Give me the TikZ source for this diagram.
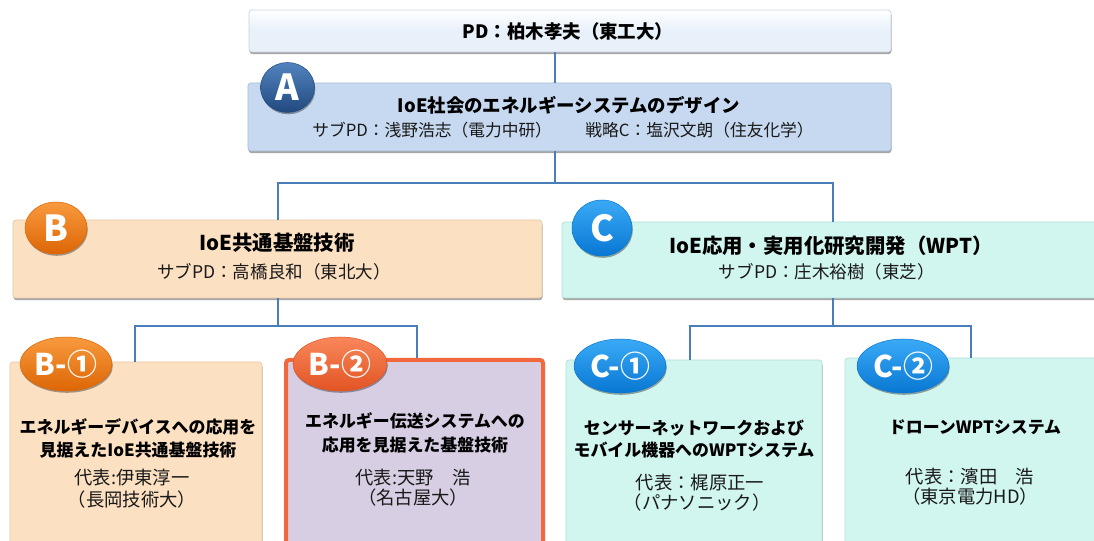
\documentclass[tikz,border=0pt]{standalone}
\usepackage{fontspec}
\setmainfont{Noto Sans CJK JP}
\usetikzlibrary{shapes.geometric,shadows}
\definecolor{lineblue}{HTML}{4A7EBB}
\definecolor{pdfill}{HTML}{E8F0FA}
\definecolor{pdline}{HTML}{C9D5E3}
\definecolor{afill}{HTML}{C6D9F0}
\definecolor{aline}{HTML}{A9BFDA}
\definecolor{bfill}{HTML}{FCE0C2}
\definecolor{bline}{HTML}{E8C8A6}
\definecolor{cfill}{HTML}{D1F5EF}
\definecolor{cline}{HTML}{B3E0D8}
\definecolor{lavfill}{HTML}{D8CEE4}
\definecolor{redline}{HTML}{F1683C}
\definecolor{aTop}{HTML}{5283BE}
\definecolor{aBot}{HTML}{21497F}
\definecolor{bTop}{HTML}{F89A3E}
\definecolor{bBot}{HTML}{DD6605}
\definecolor{cTop}{HTML}{3AAAF6}
\definecolor{cBot}{HTML}{0877D3}
\definecolor{rTop}{HTML}{F8875A}
\definecolor{rBot}{HTML}{E25424}
\newcommand{\fsz}[1]{\fontsize{#1}{#1}\selectfont}
\begin{document}
\begin{tikzpicture}[x=1bp,y=-1bp,
  conn/.style={draw=lineblue,line width=2.6bp},
  box/.style={rounded corners=3bp,line width=0.7bp,inner sep=0pt,
    drop shadow={shadow xshift=0.5bp,shadow yshift=-2.2bp,opacity=0.35,fill=black}},
  badge/.style={ellipse,inner sep=0pt,text=white,line width=0.5bp,
    drop shadow={shadow xshift=0.8bp,shadow yshift=-1.8bp,opacity=0.35,fill=black}},
  big/.style={font=\bfseries\fsz{36}},
  small/.style={font=\bfseries\fsz{30}},
  ttl/.style={font=\bfseries\fsz{18.5},align=center,inner sep=0pt},
  ttlb/.style={font=\bfseries\fsz{20.5},align=center,inner sep=0pt},
  sub/.style={font=\fsz{16.8},align=center,inner sep=0pt,text=black!90},
  subb/.style={font=\fsz{17.6},align=center,inner sep=0pt,text=black!90},
  btl/.style={font=\bfseries\fsz{17},align=center,inner sep=0pt},
  bsub/.style={font=\fsz{18.4},align=center,inner sep=0pt,text=black!90}]
\useasboundingbox[fill=white] (0,0) rectangle (1094,541);

% coordinates for connector buses
\coordinate (busA) at (555,183);
\coordinate (busB) at (278,326);
\coordinate (busC) at (833,326);
\coordinate (xB1) at (135,0);
\coordinate (xB2) at (417,0);
\coordinate (xC1) at (690,0);
\coordinate (xC2) at (971,0);

% boxes
\node[box,draw=pdline,top color=white,bottom color=pdfill,middle color=pdfill,
  minimum width=642bp,minimum height=42bp] (PD) at (570,31) {};
\node[box,draw=aline,fill=afill,minimum width=643bp,minimum height=68bp] (A) at (569.5,117) {};
\node[box,draw=bline,fill=bfill,minimum width=529bp,minimum height=78bp] (B) at (277.5,259) {};
\node[box,draw=cline,fill=cfill,minimum width=538bp,minimum height=76bp] (C) at (831,260) {};
\node[box,draw=bline,fill=bfill,minimum width=252bp,minimum height=200bp] (B1) at (136,462) {};
\node[box,draw=redline,line width=4bp,fill=lavfill,minimum width=257bp,minimum height=202bp] (B2) at (414.5,461) {};
\node[box,draw=cline,fill=cfill,minimum width=256bp,minimum height=200bp] (C1) at (694,460) {};
\node[box,draw=cline,fill=cfill,minimum width=260bp,minimum height=202bp] (C2) at (975,459) {};

% connectors
\draw[conn] (PD.south -| busA) -- (A.north -| busA);
\draw[conn] (A.south -| busA) -- (busA);
\draw[conn] (B.north -| busB) -- (busB |- busA) -- (busC |- busA) -- (C.north -| busC);
\draw[conn] (B.south -| busB) -- (busB);
\draw[conn] (B1.north -| xB1) -- (xB1 |- busB) -- (xB2 |- busB) -- (B2.north -| xB2);
\draw[conn] (C.south -| busC) -- (busC);
\draw[conn] (C1.north -| xC1) -- (xC1 |- busC) -- (xC2 |- busC) -- (C2.north -| xC2);

% texts
\node[ttl] (tPD) at (568,31) {PD：柏木孝夫（東工大）};
\node[ttl] (tA) at (569,105) {IoE社会のエネルギーシステムのデザイン};
\node[sub] (sA) at (563,130) {サブPD：浅野浩志（電力中研）\hspace{2em}戦略C：塩沢文朗（住友化学）};
\node[ttlb] (tB) at (277,243) {IoE共通基盤技術};
\node[subb] (sB) at (274,272) {サブPD：高橋良和（東北大）};
\node[ttlb] (tC) at (831,246) {IoE応用・実用化研究開発（WPT）};
\node[subb] (sC) at (827,272) {サブPD：庄木裕樹（東芝）};

\node[btl] (tB1a) at (138,427) {エネルギーデバイスへの応用を};
\node[btl] (tB1b) at (138,450) {見据えたIoE共通基盤技術};
\node[bsub] (sB1a) at (132,478) {代表:伊東淳一};
\node[bsub] (sB1b) at (132,500) {（長岡技術大）};

\node[btl] (tB2a) at (415,421) {エネルギー伝送システムへの};
\node[btl] (tB2b) at (415,445) {応用を見据えた基盤技術};
\node[bsub] (sB2a) at (413,478) {代表:天野\hspace{1em}浩};
\node[bsub] (sB2b) at (413,498) {（名古屋大）};

\node[btl] (tC1a) at (694,428) {センサーネットワークおよび};
\node[btl] (tC1b) at (694,450) {モバイル機器へのWPTシステム};
\node[bsub] (sC1a) at (700,483) {代表：梶原正一};
\node[bsub] (sC1b) at (697,503) {（パナソニック）};

\node[btl] (tC2a) at (975,427) {ドローンWPTシステム};
\node[bsub] (sC2a) at (970,477) {代表：濱田\hspace{1em}浩};
\node[bsub] (sC2b) at (970,497) {（東京電力HD）};

% badges
\node[badge,big,draw=aBot,top color=aTop,bottom color=aBot,minimum width=54bp,minimum height=50bp] (LA) at (287.5,87.5) {A};
\node[badge,big,draw=bBot,top color=bTop,bottom color=bBot,minimum width=62bp,minimum height=52bp] (LB) at (56,228) {B};
\node[badge,big,draw=cBot,top color=cTop,bottom color=cBot,minimum width=60bp,minimum height=56bp] (LC) at (602,228) {C};
\node[badge,small,draw=bBot,top color=bTop,bottom color=bBot,minimum width=92bp,minimum height=54bp] (LB1) at (66,364) {B-①};
\node[badge,small,draw=rBot,top color=rTop,bottom color=rBot,minimum width=94bp,minimum height=54bp] (LB2) at (340,364) {B-②};
\node[badge,small,draw=cBot,top color=cTop,bottom color=cBot,minimum width=92bp,minimum height=54bp] (LC1) at (620,366) {C-①};
\node[badge,small,draw=cBot,top color=cTop,bottom color=cBot,minimum width=92bp,minimum height=54bp] (LC2) at (903,366) {C-②};
\end{tikzpicture}
\end{document}
